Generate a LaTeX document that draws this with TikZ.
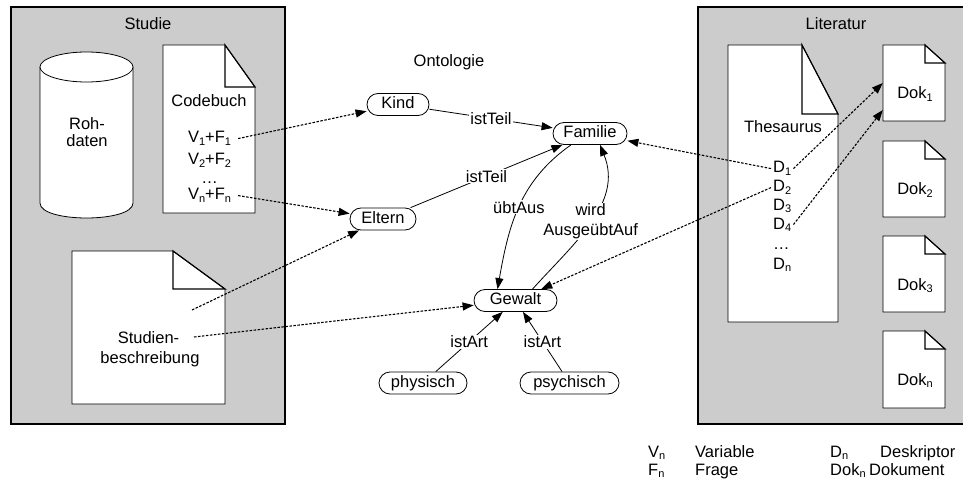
\documentclass[tikz,border=0pt]{standalone}
\usepackage{fontspec}
\setmainfont{Liberation Sans}
\usetikzlibrary{arrows.meta,calc}
\definecolor{boxgray}{RGB}{204,204,204}
\newcommand{\mysub}[1]{\raisebox{-2.5pt}{\fontsize{11pt}{11pt}\selectfont #1}}
\newcommand{\mydoc}[6]{%
  \draw[docshape] (#1,#2) -- (#5,#2) -- (#3,#6) -- (#3,#4) -- (#1,#4) -- cycle;
  \draw[foldline] (#5,#2) -- (#5,#6) -- (#3,#6) -- cycle;}
\begin{document}
\begin{tikzpicture}[x=1pt,y=-1pt,
  font=\fontsize{16.5pt}{20pt}\selectfont,
  concept/.style={draw, rounded corners=11pt, minimum height=22pt, inner xsep=4pt, inner ysep=0pt,
    text height=12pt, text depth=3.5pt, line width=0.8pt, fill=white},
  lbl/.style={inner sep=1pt, fill=white},
  txt/.style={inner sep=2pt},
  rel/.style={-{Triangle[length=11pt,width=8pt]}, line width=0.8pt},
  link/.style={-{Triangle[length=11pt,width=8pt]}, line width=1.1pt, dash pattern=on 2.5pt off 1.5pt},
  container/.style={fill=boxgray, draw, line width=2.2pt},
  docshape/.style={fill=white, draw, line width=0.7pt},
  foldline/.style={draw, line width=1.2pt, line join=miter}]
\useasboundingbox (0,0) rectangle (963,481);

% containers
\path[container] (11,7) rectangle (285,424);
\path[container] (698,7) rectangle (966,424);
\node[txt, anchor=base] (studietitle) at (148,30) {Studie};
\node[txt, anchor=base] (littitle) at (836,30) {Literatur};
\node[txt, anchor=base] (onto) at (449,67) {Ontologie};

% cylinder
\draw[fill=white, line width=0.8pt] (40,67) -- (40,203) .. controls (40,223) and (133,223) .. (133,203) -- (133,67);
\draw[fill=white, line width=0.8pt] (86.5,67) ellipse [x radius=46.5, y radius=15];
\node[txt, anchor=base] (roh) at (87,130) {Roh-};
\node[txt, anchor=base] (daten) at (87,147) {daten};

% Codebuch
\mydoc{163}{45}{255}{213}{225}{87}
\node[txt, anchor=base] (codebuch) at (209,107) {Codebuch};
\node[txt, anchor=base] (v1) at (209.5,143) {V\mysub{1}+F\mysub{1}};
\node[txt, anchor=base] (v2) at (209.5,165) {V\mysub{2}+F\mysub{2}};
\node[txt, anchor=base] (vdots) at (209.5,183) {…};
\node[txt, anchor=base] (vn) at (209.5,200) {V\mysub{n}+F\mysub{n}};

% Studienbeschreibung
\mydoc{72}{251}{225}{404}{173}{289}
\node[txt, anchor=base] (studien) at (148.5,343) {Studien-};
\node[txt, anchor=base] (beschr) at (150,363) {beschreibung};
\coordinate (sbpoint) at (192,310);
\coordinate (sbtext) at (194,337);

% Thesaurus
\mydoc{728}{45}{838}{322}{802}{114}
\node[txt, anchor=base] (thes) at (783,133) {Thesaurus};
\node[txt, anchor=base west] (d1) at (771,173) {D\mysub{1}};
\node[txt, anchor=base west] (d2) at (771,192) {D\mysub{2}};
\node[txt, anchor=base west] (d3) at (771,210) {D\mysub{3}};
\node[txt, anchor=base west] (d4) at (771,229) {D\mysub{4}};
\node[txt, anchor=base west] (ddots) at (771,249) {…};
\node[txt, anchor=base west] (dn) at (771,269) {D\mysub{n}};

% Dok documents
\mydoc{883}{45}{945}{121}{925}{63}
\mydoc{883}{141}{945}{217}{925}{159}
\mydoc{883}{236}{945}{312}{925}{254}
\mydoc{883}{331}{945}{408}{925}{349}
\node[inner sep=0, minimum width=62pt, minimum height=76pt] (dok1) at (914,83) {};
\coordinate (dok1low) at ([yshift=-27pt]dok1.west);
\node[txt, anchor=base] (dok1t) at (915,99) {Dok\mysub{1}};
\node[txt, anchor=base] (dok2t) at (915,195) {Dok\mysub{2}};
\node[txt, anchor=base] (dok3t) at (915,290) {Dok\mysub{3}};
\node[txt, anchor=base] (doknt) at (915,385) {Dok\mysub{n}};

% Ontology concepts
\node[concept, minimum width=62pt] (kind) at (398,104.5) {Kind};
\node[concept, minimum width=74pt] (familie) at (590,133.5) {Familie};
\node[concept, minimum width=66pt] (eltern) at (383,219) {Eltern};
\node[concept, minimum width=83pt] (gewalt) at (515.5,300.5) {Gewalt};
\node[concept, minimum width=88pt] (physisch) at (423,383) {physisch};
\node[concept, minimum width=99pt] (psychisch) at (569.5,383) {psychisch};

% relations
\draw[rel] (kind) -- node[lbl] {istTeil} (familie);
\draw[rel] (eltern) -- node[lbl] {istTeil} (familie);
\draw[rel] ([xshift=17pt]gewalt.north) to[out=48,in=-68] node[lbl, align=center, pos=0.5] {wird\\AusgeübtAuf} ([xshift=10pt]familie.south);
\draw[rel] ([xshift=-19pt]familie.south) to[out=215,in=80] node[lbl, pos=0.5] {übtAus} ([xshift=-18pt]gewalt.north);
\draw[rel] (physisch) -- node[lbl] {istArt} (gewalt);
\draw[rel] (psychisch) -- node[lbl] {istArt} (gewalt);

% dotted links
\draw[link] ([xshift=5pt]v1.east) -- (kind);
\draw[link] ([xshift=5pt]vn.east) -- (eltern);
\draw[link] (sbpoint) -- (eltern);
\draw[link] (sbtext) -- (gewalt);
\draw[link] (d1.west) -- (familie);
\draw[link] (d2.west) -- (gewalt);
\draw[link] (d1.east) -- (dok1.west);
\draw[link] (d4.east) -- (dok1low);

% legend
\node[txt, anchor=base west] (lv) at (646,457) {V\mysub{n}};
\node[txt, anchor=base west] (lvar) at (693,457) {Variable};
\node[txt, anchor=base west] (lf) at (646,475) {F\mysub{n}};
\node[txt, anchor=base west] (lfrage) at (693,475) {Frage};
\node[txt, anchor=base west] (ld) at (828,457) {D\mysub{n}};
\node[txt, anchor=base west] (ldesk) at (878,457) {Deskriptor};
\node[txt, anchor=base west] (ldok) at (828,475) {Dok\mysub{n}};
\node[txt, anchor=base west] (ldokument) at (867,475) {Dokument};
\end{tikzpicture}
\end{document}
